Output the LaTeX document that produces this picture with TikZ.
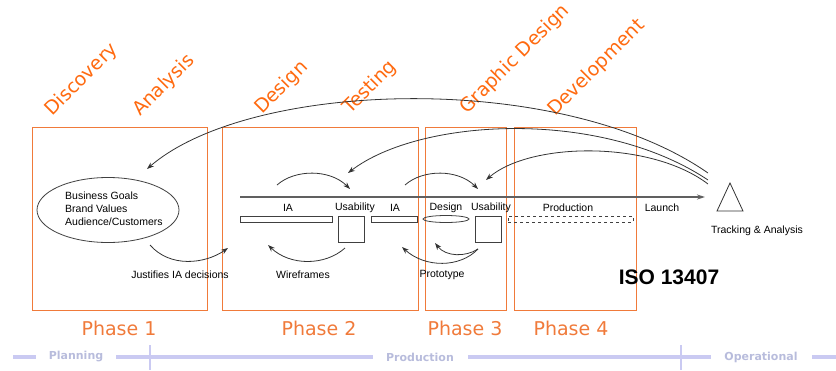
\documentclass[tikz,border=0pt]{standalone}
\usepackage{fontspec}
\setmainfont{Liberation Sans}
\newfontfamily\verdana{DejaVu Sans}
\usetikzlibrary{positioning,shapes.geometric,arrows.meta}
\definecolor{phaseorange}{HTML}{F07A3A}
\definecolor{stageorange}{HTML}{FF6A10}
\definecolor{flowgrey}{HTML}{606060}
\definecolor{spanlilac}{HTML}{CACAF2}
\definecolor{spantext}{HTML}{B8BCDC}

\begin{document}
\begin{tikzpicture}[x=1pt,y=-1pt,
  phasebox/.style={draw=phaseorange, line width=1pt, inner sep=0pt},
  phaselabel/.style={text=phaseorange, font=\verdana\fontsize{19}{19}\selectfont},
  stage/.style={text=stageorange, font=\verdana\fontsize{19}{19}\selectfont,
    rotate=45, anchor=base west, inner sep=0pt},
  lbl/.style={font=\fontsize{10.5}{13}\selectfont, inner sep=1pt},
  barbox/.style={draw=black!75, line width=0.8pt, inner sep=0pt, minimum height=6pt},
  cycarrow/.style={draw=black!80, line width=0.8pt, -{Stealth[length=7pt,width=5pt]}},
  spanline/.style={spanlilac, line width=3.5pt},
  spantick/.style={spanlilac, line width=1.5pt},
  spanlabel/.style={text=spantext, font=\verdana\bfseries\fontsize{11}{11}\selectfont}]
  \useasboundingbox (0,0) rectangle (836,370);

  % phase frames
  \node[phasebox, minimum width=175pt, minimum height=183pt] (phaseone) at (119.5,218.5) {};
  \node[phasebox, minimum width=196pt, minimum height=183pt] (phasetwo) at (320,218.5) {};
  \node[phasebox, minimum width=81pt, minimum height=183pt] (phasethree) at (465.5,218.5) {};
  \node[phasebox, minimum width=122pt, minimum height=183pt] (phasefour) at (575,218.5) {};
  \node[phaselabel] at (119,328) {Phase 1};
  \node[phaselabel] at (319,328) {Phase 2};
  \node[phaselabel] at (465,328) {Phase 3};
  \node[phaselabel] at (571,328) {Phase 4};

  % stages
  \node[stage] at (52,117) {Discovery};
  \node[stage] at (140,117) {Analysis};
  \node[stage] at (262,115) {Design};
  \node[stage] at (350,115) {Testing};
  \node[stage] at (467,115) {Graphic Design};
  \node[stage] at (555,117) {Development};

  % goals
  \node[ellipse, draw=black!75, line width=0.8pt, minimum width=142pt, minimum height=65pt] (goals) at (108,210) {};
  \node[lbl, align=left, anchor=west] (goalstext) at (64,209) {Business Goals\\Brand Values\\Audience/Customers};

  % main flow
  \coordinate (flowstart) at (240,197);
  \coordinate (flowend) at (705,197);
  \draw[flowgrey, line width=1.3pt, -{Stealth[length=8pt,width=5pt]}] (flowstart) -- (flowend);

  \node[barbox, minimum width=92pt] (iaone) at (286,219) {};
  \node[barbox, minimum size=26pt] (usone) at (351,229) {};
  \node[barbox, minimum width=46pt] (iatwo) at (394,219) {};
  \node[barbox, ellipse, minimum width=46pt, minimum height=7pt] (designbar) at (446,219) {};
  \node[barbox, minimum size=26pt] (ustwo) at (488.5,229) {};
  \node[barbox, dashed, minimum width=125pt] (prodbar) at (570.5,219) {};

  \node[lbl] at (288,208) {IA};
  \node[lbl] at (355,208) {Usability};
  \node[lbl] at (395,208) {IA};
  \node[lbl] at (446,208) {Design};
  \node[lbl] at (491,208) {Usability};
  \node[lbl] at (568,208) {Production};
  \node[lbl] at (662,208) {Launch};

  % tracking
  \draw[black!80, line width=0.8pt] (730,183) -- (743,211) -- (717,211) -- cycle;
  \node[lbl] (track) at (757,231) {Tracking \& Analysis};
  \node[font=\bfseries\fontsize{21}{21}\selectfont] (iso) at (669,277) {ISO 13407};

  % feedback loops
  \coordinate (trackA) at (708,173);
  \coordinate (trackB) at (708,180);
  \coordinate (trackC) at (708,184);
  \coordinate (goalsin) at (147,169);
  \coordinate (usonein) at (348,173);
  \coordinate (ustwoin) at (486,180);
  \draw[cycarrow] (trackA) .. controls (560,70) and (250,80) .. (goalsin);
  \draw[cycarrow] (trackB) .. controls (600,108) and (420,118) .. (usonein);
  \draw[cycarrow] (trackC) .. controls (650,140) and (530,142) .. (ustwoin);

  \coordinate (topones) at (277,185);
  \coordinate (toponee) at (350,189);
  \coordinate (toptwos) at (405,185);
  \coordinate (toptwoe) at (478,189);
  \draw[cycarrow] (topones) .. controls (295,169) and (330,169) .. (toponee);
  \draw[cycarrow] (toptwos) .. controls (423,169) and (458,169) .. (toptwoe);

  \coordinate (jstart) at (150,245);
  \coordinate (jend) at (228,248);
  \coordinate (wstart) at (345,248);
  \coordinate (wend) at (268,245);
  \coordinate (pstart) at (478,249);
  \coordinate (pinner) at (435,243);
  \coordinate (pouter) at (402,247);
  \draw[cycarrow] (jstart) .. controls (170,268) and (205,264) .. (jend);
  \draw[cycarrow] (wstart) .. controls (325,266) and (290,266) .. (wend);
  \draw[cycarrow] (pstart) .. controls (466,257) and (446,257) .. (pinner);
  \draw[cycarrow] (pstart) .. controls (460,268) and (425,268) .. (pouter);

  \node[lbl] at (180,275) {Justifies IA decisions};
  \node[lbl] at (303,275) {Wireframes};
  \node[lbl] at (442,275) {Prototype};

  % life span
  \draw[spanline] (13,357) -- (36,357);
  \draw[spanline] (116,357) -- (373,357);
  \draw[spanline] (468,357) -- (711,357);
  \draw[spanline] (812,357) -- (836,357);
  \draw[spantick] (150,345) -- (150,370);
  \draw[spantick] (681,345) -- (681,370);
  \node[spanlabel] at (76,357) {Planning};
  \node[spanlabel] at (420,357) {Production};
  \node[spanlabel] at (761,357) {Operational};
\end{tikzpicture}
\end{document}
